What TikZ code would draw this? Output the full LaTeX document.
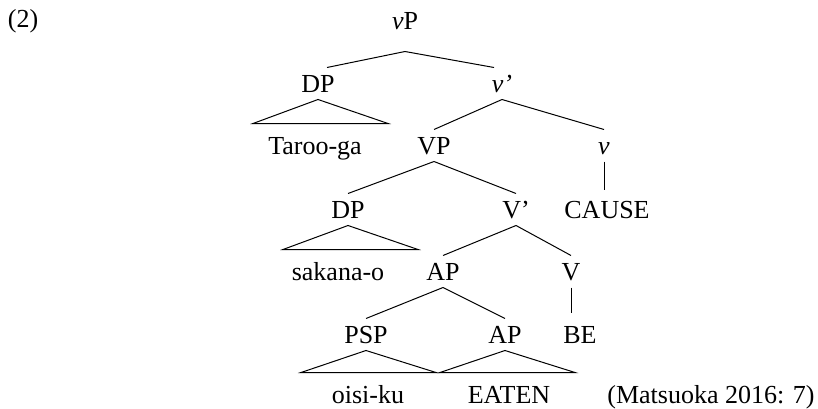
\documentclass[tikz,border=0pt]{standalone}
\usepackage{fontspec}
\setmainfont{Liberation Serif}
\usepackage{tikz}
\usetikzlibrary{positioning}

\begin{document}
\begin{tikzpicture}[x=1pt,y=1pt,line width=1pt]

\tikzstyle{cat}=[font=\fontsize{26}{30}\selectfont,text height=17pt,text depth=0pt,inner xsep=0pt,inner ysep=7pt,anchor=base]
\tikzstyle{leaf}=[cat,inner ysep=13pt]

\useasboundingbox (0,0) rectangle (818,408);

%example number
\node[cat] (ex) at (23,380) {(2)};

%top
\node[cat] (vP)   at (405,378) {\textit{v}P};
\node[cat] (DP1)  at (318,316) {DP};
\node[cat] (vbar) at (502,316) {\textit{v’}};
\node[leaf] (taroo) at (315,254) {Taroo-ga};

%v' level
\node[cat] (VP) at (434,254) {VP};
\node[cat] (v)  at (604,254) {\textit{v}};
\node[cat] (DP2)   at (348,190) {DP};
\node[cat] (Vbar)  at (516,190) {V’};
\node[cat] (cause) at (607,190) {CAUSE};
\node[leaf] (sakana) at (338,128) {sakana-o};

%V' level
\node[cat] (AP1) at (443,128) {AP};
\node[cat] (V)   at (571,128) {V};
\node[cat] (PSP) at (366,65) {PSP};
\node[cat] (AP2) at (505,65) {AP};
\node[cat] (BE)  at (580,65) {BE};
\node[leaf] (oisi)  at (368,5) {oisi-ku};
\node[leaf] (eaten) at (509,5) {EATEN};

%source
\node[cat] (src) at (711,5) {(Matsuoka 2016: 7)};

%branches
\path ([yshift=-14pt]vP.south) edge ([xshift=9pt]DP1.north)
      ([yshift=-14pt]vP.south) edge ([xshift=-8pt]vbar.north)
      (vbar.south) edge (VP.north)
      (vbar.south) edge (v.north)
      (VP.south) edge (DP2.north)
      (VP.south) edge (Vbar.north)
      (Vbar.south) edge (AP1.north)
      (Vbar.south) edge (V.north)
      (AP1.south) edge (PSP.north)
      (AP1.south) edge (AP2.north)
%unary
      (v.south) edge ([yshift=4pt]v.south |- cause.north)
      (V.south) edge ([yshift=6pt]V.south |- BE.north);

%triangles
\draw (DP1.south) -- ([xshift=-65pt]DP1.south |- taroo.north) -- ([xshift=70pt]DP1.south |- taroo.north) -- cycle;
\draw (DP2.south) -- ([xshift=-65pt]DP2.south |- sakana.north) -- ([xshift=70pt]DP2.south |- sakana.north) -- cycle;
\draw (PSP.south) -- ([xshift=-65pt]PSP.south |- oisi.north) -- ([xshift=70pt]PSP.south |- oisi.north) -- cycle;
\draw (AP2.south) -- ([xshift=-65pt]AP2.south |- eaten.north) -- ([xshift=70pt]AP2.south |- eaten.north) -- cycle;

\end{tikzpicture}
\end{document}
